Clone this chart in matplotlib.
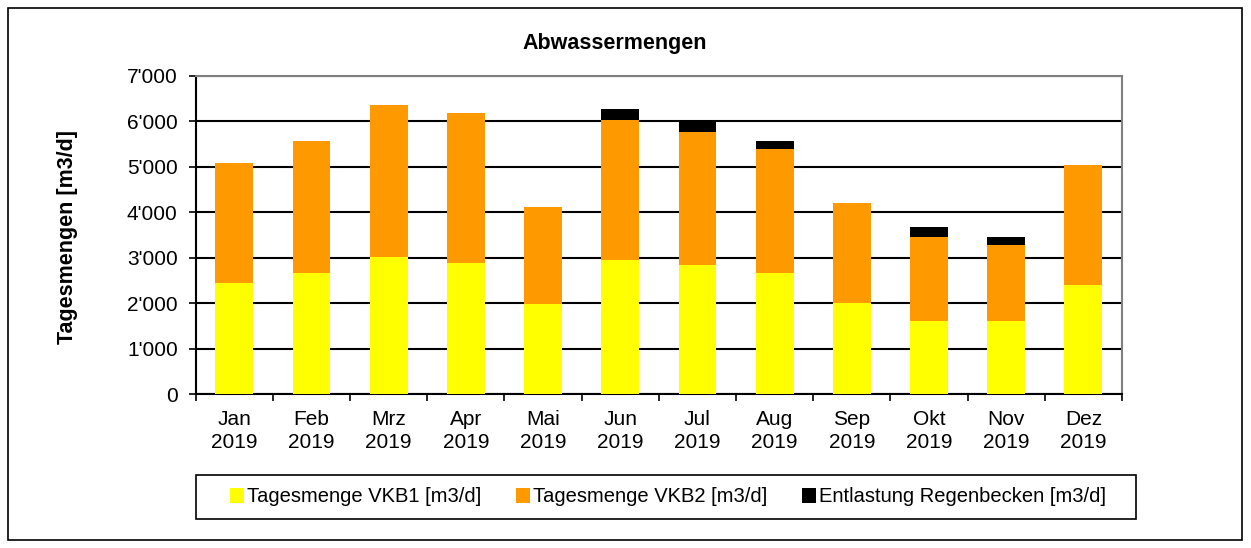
import matplotlib
matplotlib.use("Agg")
import matplotlib.pyplot as plt
from matplotlib.patches import Rectangle
from matplotlib.ticker import FuncFormatter, FixedLocator

plt.rcParams['font.family'] = ['Liberation Sans', 'DejaVu Sans']

months = ["Jan\n2019", "Feb\n2019", "Mrz\n2019", "Apr\n2019", "Mai\n2019", "Jun\n2019",
          "Jul\n2019", "Aug\n2019", "Sep\n2019", "Okt\n2019", "Nov\n2019", "Dez\n2019"]
vkb1 = [2440, 2660, 3010, 2880, 1980, 2950, 2830, 2660, 2000, 1600, 1610, 2400]
vkb2 = [2640, 2910, 3350, 3300, 2140, 3080, 2940, 2720, 2210, 1850, 1670, 2640]
entl = [0, 0, 0, 0, 0, 240, 240, 190, 0, 230, 180, 0]

labels = ["Tagesmenge VKB1 [m3/d]", "Tagesmenge VKB2 [m3/d]", "Entlastung Regenbecken [m3/d]"]
colors = ["#FFFF00", "#FF9900", "#000000"]

W, H = 1251, 548
fig = plt.figure(figsize=(W / 100, H / 100), dpi=100)
fig.patches.append(Rectangle((8 / W, 8 / H), 1234 / W, 532 / H, transform=fig.transFigure,
                             fill=False, edgecolor='black', linewidth=1.2))
ax = fig.add_axes([195.7 / W, 1 - 394.3 / H, (1122 - 195.7) / W, (394.3 - 75.7) / H])

x = list(range(len(months)))
w = 0.49
b2 = vkb1
b3 = [a + b for a, b in zip(vkb1, vkb2)]
ax.bar(x, vkb1, w, color=colors[0], label=labels[0], zorder=3)
ax.bar(x, vkb2, w, bottom=b2, color=colors[1], label=labels[1], zorder=3)
ax.bar(x, entl, w, bottom=b3, color=colors[2], label=labels[2], zorder=3)

ax.set_xlim(-0.5, len(months) - 0.5)
ax.set_ylim(0, 7000)
ax.set_yticks(range(0, 7001, 1000))
ax.yaxis.set_major_formatter(FuncFormatter(lambda v, p: f"{int(v):,}".replace(",", "'")))
ax.set_xticks(x)
ax.set_xticklabels(months, fontsize=15, linespacing=1.3)
ax.xaxis.set_minor_locator(FixedLocator([i - 0.5 for i in range(len(months) + 1)]))
ax.tick_params(axis='x', which='major', length=0, pad=11)
ax.tick_params(axis='x', which='minor', length=5, width=1.2, direction='out')
ax.tick_params(axis='y', length=5, width=1.2, direction='out', labelsize=15, pad=8)
ax.grid(axis='y', color='black', linewidth=1.5, zorder=0)
ax.set_axisbelow(True)
for s in ['top', 'right']:
    ax.spines[s].set_color('#808080')
    ax.spines[s].set_linewidth(1.5)
for s in ['left', 'bottom']:
    ax.spines[s].set_color('black')
    ax.spines[s].set_linewidth(1.5)

fig.text(615 / W, 1 - 43 / H, "Abwassermengen", ha='center', va='center', fontsize=15.5, fontweight='bold')
fig.text(67 / W, 1 - 237 / H, "Tagesmengen [m3/d]", ha='center', va='center', rotation=90,
         fontsize=15.5, fontweight='bold')

fig.patches.append(Rectangle((196 / W, 1 - 519 / H), (1136 - 196) / W, 44 / H, transform=fig.transFigure,
                             fill=False, edgecolor='black', linewidth=1.2))
leg = fig.legend(loc='center', bbox_to_anchor=(668 / W, 1 - 497 / H), ncol=3, fontsize=14.5,
                 frameon=False, handlelength=0.72, handleheight=0.75,
                 handletextpad=0.15, columnspacing=1.7, borderpad=0.2)

fig.savefig("out.png", dpi=100)
